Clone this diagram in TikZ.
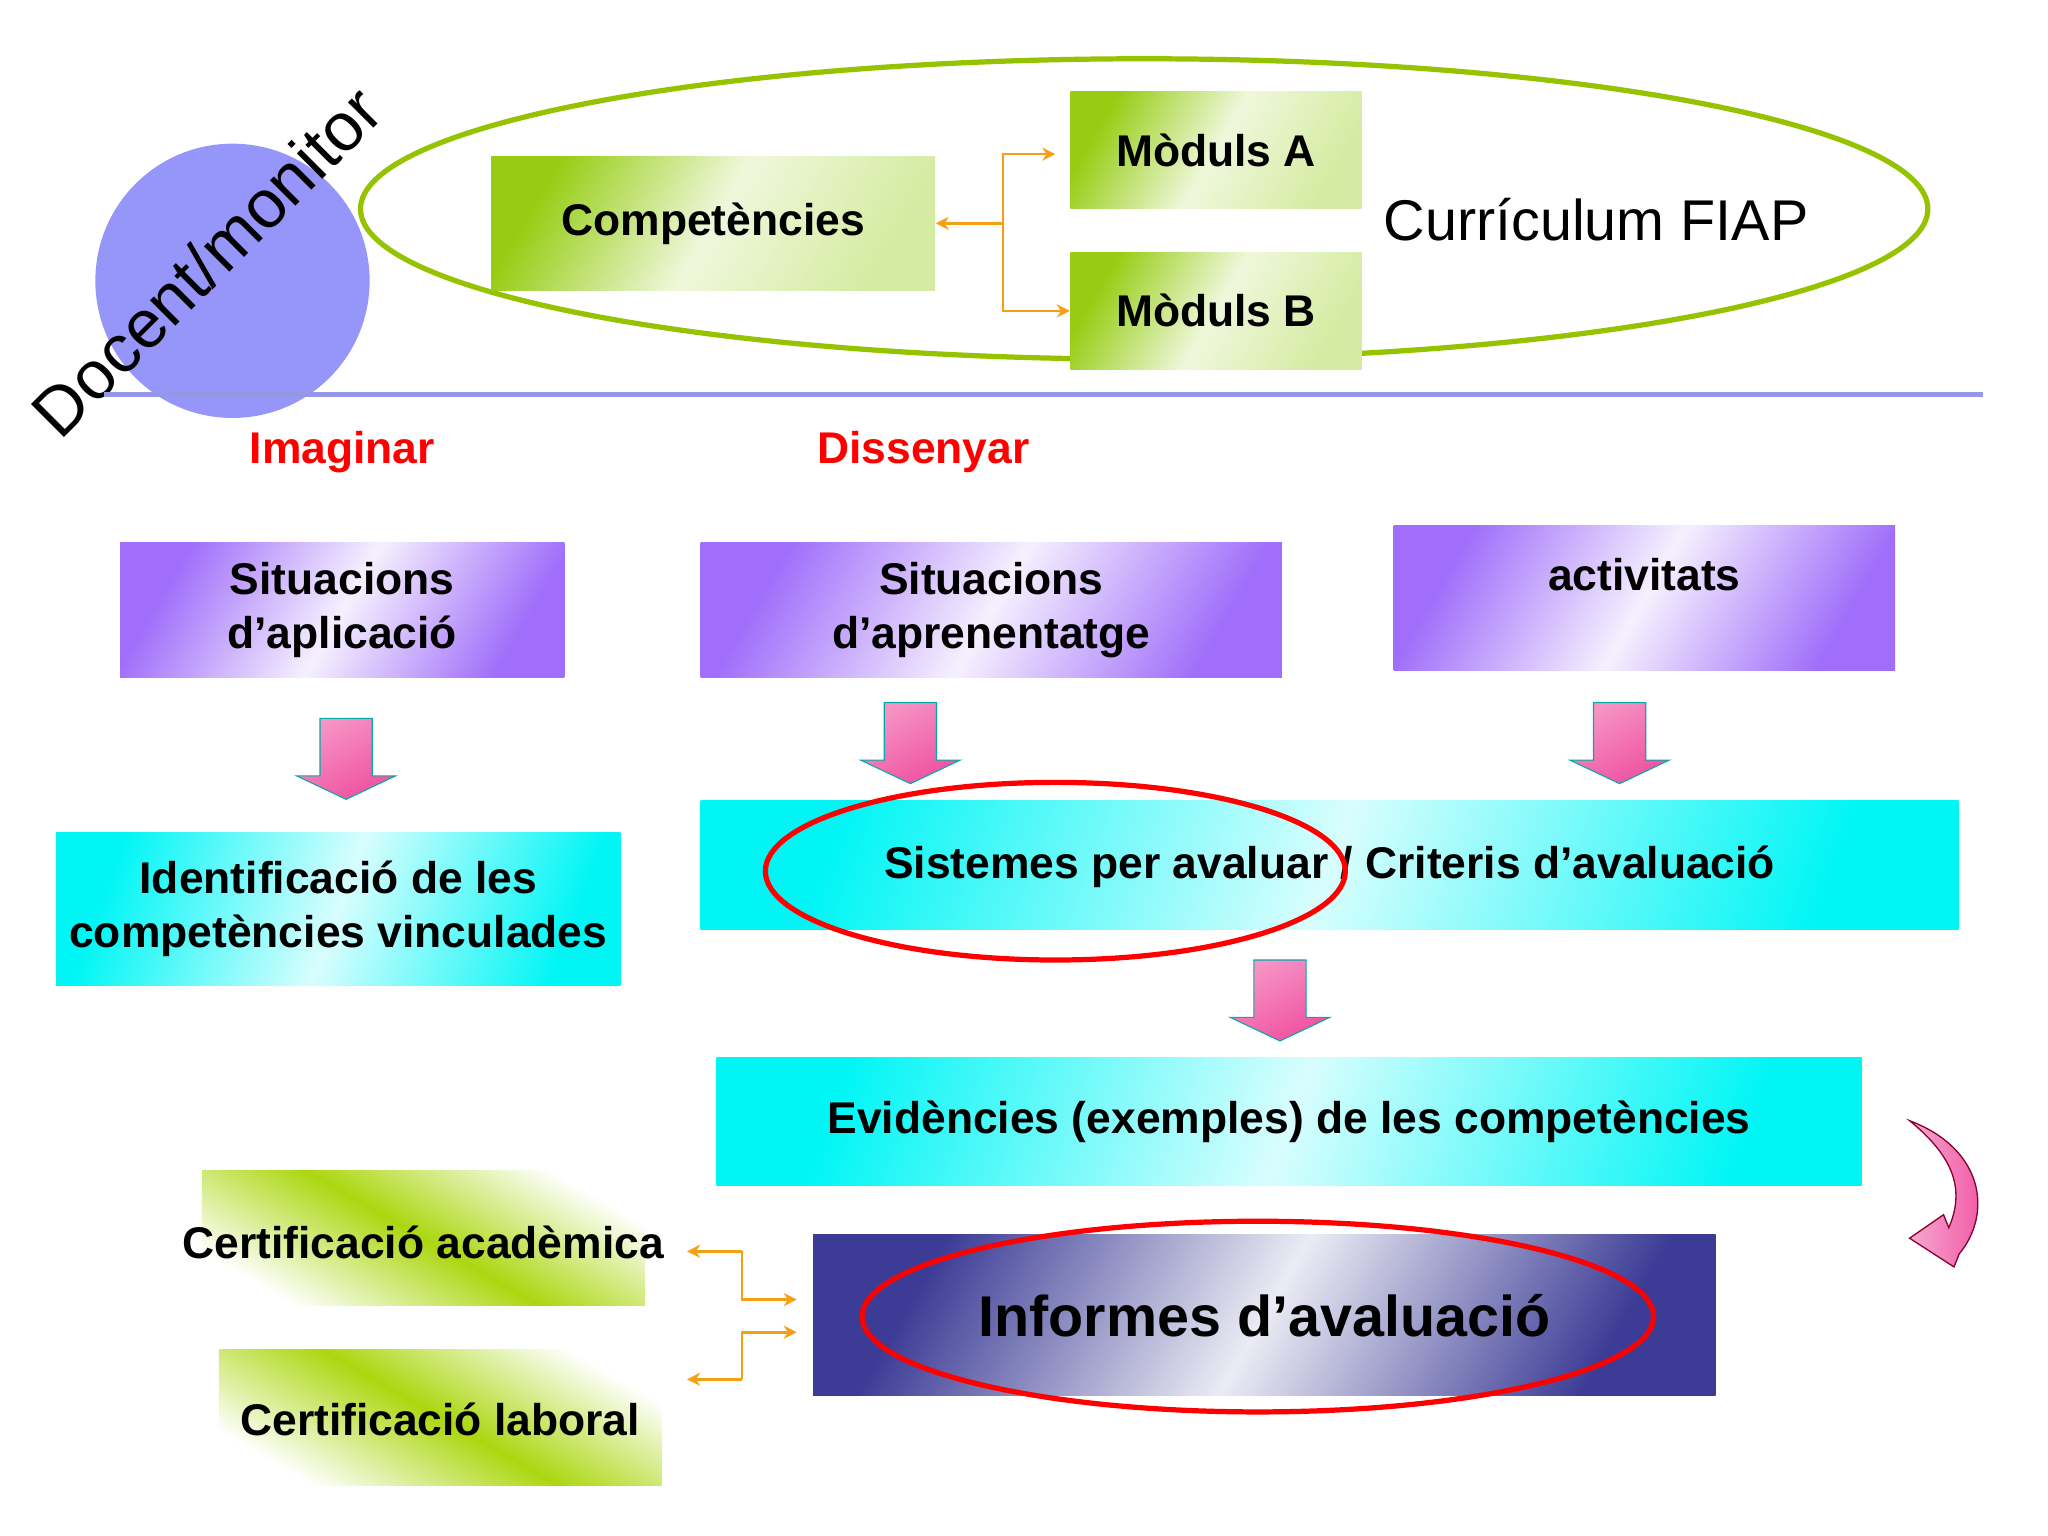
\documentclass[tikz,border=0pt]{standalone}
\usepackage{fontspec}
\setmainfont{Liberation Sans}
\usetikzlibrary{arrows.meta}
\definecolor{lgreen}{RGB}{150,205,20}
\definecolor{egreen}{RGB}{150,195,0}
\definecolor{purp}{RGB}{160,110,250}
\definecolor{cyn}{RGB}{0,245,245}
\definecolor{orng}{RGB}{245,160,20}
\definecolor{pnk}{RGB}{240,80,160}
\definecolor{navy}{RGB}{60,60,150}
\definecolor{circ}{RGB}{150,150,250}
\definecolor{hline}{RGB}{150,150,230}
\tikzset{
 gbox/.style={draw=none,inner sep=0pt,font=\bfseries\fontsize{17}{20.5}\selectfont},
 grn/.style={gbox,left color=lgreen,right color=white!60!lgreen,middle color=white!85!lgreen,shading angle=60},
 prp/.style={gbox,left color=purp,right color=purp,middle color=white!90!purp,shading angle=60,align=center},
 cyb/.style={gbox,left color=cyn,right color=cyn,middle color=white!85!cyn,shading angle=70,align=center},
 con/.style={orng,line width=1pt,-{Stealth[length=5pt,width=5pt]}},
 pa/.style={draw=cyn!70!black,line width=0.4pt,top color=pnk!60!white,bottom color=pnk,shading angle=30},
 rell/.style={draw=red,line width=2pt},
 lbl/.style={font=\bfseries\fontsize{17}{20.5}\selectfont}
}
\newcommand{\pdown}[3]{\path[pa] (#1-20,#2)--(#1+20,#2)--(#1+20,#3-18)--(#1+38,#3-18)--(#1,#3)--(#1-38,#3-18)--(#1-20,#3-18)--cycle;}
\begin{document}
\begin{tikzpicture}[x=0.5pt,y=-0.5pt]
\useasboundingbox[fill=white] (0,0) rectangle (1568,1176);
% top
\draw[egreen,line width=2pt] (876,160) ellipse [x radius=600,y radius=115];
\fill[circ] (178,215) circle (105);
\node[rotate=45,font=\fontsize{26}{30}\selectfont] (doc) at (158,200) {Docent/monitor};
\draw[hline,line width=2pt] (80,302)--(1518,302);
\node[grn,minimum width=170pt,minimum height=51.5pt] (comp) at (546,171) {Competències};
\node[grn,minimum width=111.5pt,minimum height=45pt] (ma) at (931,115) {Mòduls A};
\node[grn,minimum width=111.5pt,minimum height=45pt] (mb) at (931,238) {Mòduls B};
\node[font=\fontsize{22}{26}\selectfont] (cur) at (1222,168) {Currículum FIAP};
\coordinate (j) at (768,171);
\draw[con] (j)--(comp.east);
\draw[con] (j)|-(808,118);
\draw[con] (j)|-(mb.west);
% labels
\node[lbl,text=red] (im) at (262,346) {Imaginar};
\node[lbl,text=red] (dis) at (707,346) {Dissenyar};
% purple
\node[prp,minimum width=170pt,minimum height=52pt] (s1) at (262,467) {Situacions\\d’aplicació};
\node[prp,minimum width=222.5pt,minimum height=52pt] (s2) at (759,467) {Situacions\\d’aprenentatge};
\node[prp,minimum width=192pt,minimum height=55.5pt] (act) at (1259,458) {};
\node[lbl] (actt) at (1259,440) {activitats};
% arrows
\pdown{265}{550}{612}
\pdown{697}{538}{600}
\pdown{1240}{538}{600}
\pdown{980}{735}{797}
% cyan
\node[cyb,minimum width=216pt,minimum height=58.5pt] (id) at (259,696) {Identificació de les\\competències vinculades};
\node[cyb,minimum width=481.5pt,minimum height=49.5pt] (sis) at (1018,662) {};
\node[lbl] (sist) at (1018,664) {Sistemes per avaluar / Criteris d’avaluació};
\draw[rell] (808,667) ellipse [x radius=222,y radius=68];
\node[cyb,minimum width=438.5pt,minimum height=49pt] (ev) at (987,859) {Evidències (exemples) de les competències};
% bottom
\node[gbox,left color=white,right color=white,middle color=lgreen!80!yellow,shading angle=150,minimum width=169.5pt,minimum height=51.5pt] (ca) at (324,948) {};
\node[lbl] (cat) at (324,951) {Certificació acadèmica};
\node[gbox,left color=white,right color=white,middle color=lgreen!80!yellow,shading angle=150,minimum width=169.5pt,minimum height=52pt] (cl) at (337,1085) {};
\node[lbl] (clt) at (337,1087) {Certificació laboral};
\node[gbox,left color=navy,right color=navy,middle color=white!90!navy,shading angle=60,minimum width=345.5pt,minimum height=61.5pt,font=\bfseries\fontsize{22}{26}\selectfont] (inf) at (968,1007) {Informes d’avaluació};
\draw[rell] (963,1008) ellipse [x radius=303,y radius=73];
\coordinate (k1) at (568,958);
\coordinate (k2) at (568,1056);
\draw[con] (k1)--(526,958);
\draw[con] (k1)|-(610,995);
\draw[con] (k2)--(526,1056);
\draw[con] (k2)|-(610,1020);
% curved arrow
\path[draw=purple!70!black,line width=0.5pt,left color=pnk!50!white,right color=pnk] (1462,858) .. controls (1520,880) and (1525,930) .. (1500,960) -- (1496,970) -- (1462,948) -- (1488,930) -- (1492,940) .. controls (1505,910) and (1495,885) .. (1462,858) -- cycle;
\end{tikzpicture}
\end{document}
